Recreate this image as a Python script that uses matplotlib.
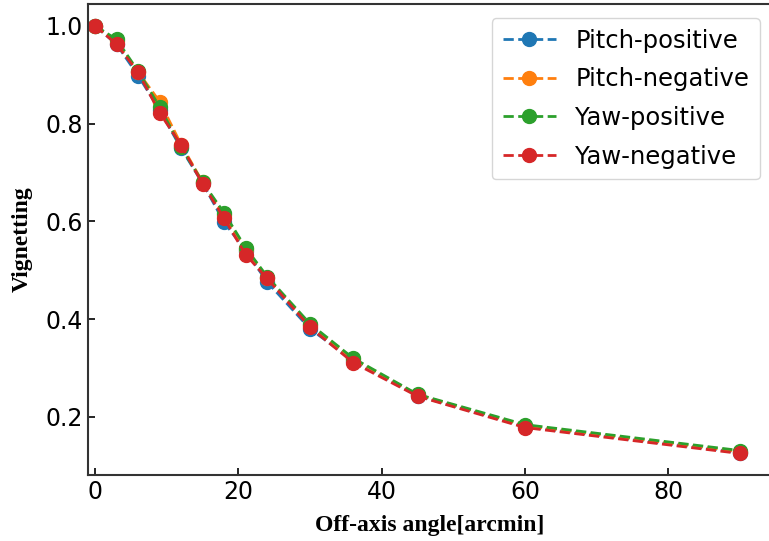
import matplotlib.pyplot as plt
import numpy as np

angle = [0, 3, 6, 9, 12, 15, 18, 21, 24, 30, 36, 45, 60, 90]
pitch_pos = [1.0, 0.962, 0.898, 0.828, 0.749, 0.678, 0.598, 0.540, 0.476, 0.380, 0.315, 0.243, 0.180, 0.127]
pitch_neg = [1.0, 0.968, 0.905, 0.845, 0.757, 0.680, 0.612, 0.543, 0.485, 0.388, 0.318, 0.245, 0.182, 0.129]
yaw_pos = [1.0, 0.972, 0.907, 0.834, 0.751, 0.680, 0.617, 0.546, 0.487, 0.390, 0.320, 0.246, 0.184, 0.131]
yaw_neg = [1.0, 0.962, 0.905, 0.822, 0.756, 0.676, 0.606, 0.532, 0.483, 0.383, 0.311, 0.242, 0.178, 0.125]

series = [('Pitch-positive', pitch_pos), ('Pitch-negative', pitch_neg),
          ('Yaw-positive', yaw_pos), ('Yaw-negative', yaw_neg)]

fig = plt.figure(figsize=(7.69, 5.41), dpi=100)
ax = fig.add_axes([0.1144, 0.122, 0.89, 0.871])

for name, vals in series:
    ax.plot(angle, vals, '--o', lw=2, ms=10, label=name)

ax.set_xlim(-1, 94.5)
ax.set_ylim(0.081, 1.045)
ax.set_xticks([0, 20, 40, 60, 80])
ax.set_yticks([0.2, 0.4, 0.6, 0.8, 1.0])
ax.tick_params(direction='in', labelsize=17, width=1.2, length=5)
for s in ax.spines.values():
    s.set_linewidth(1.5)
    s.set_color('#333333')

ax.set_xlabel('Off-axis angle[arcmin]', fontsize=17, fontweight='bold',
              family='Liberation Serif', labelpad=8)
ax.set_ylabel('Vignetting', fontsize=17, fontweight='bold',
              family='Liberation Serif', labelpad=9)
ax.legend(fontsize=17.5, loc='upper right', bbox_to_anchor=(1.0, 0.996),
          handlelength=2.2, handletextpad=0.8, borderpad=0.45, labelspacing=0.6)

plt.savefig('out.png')
